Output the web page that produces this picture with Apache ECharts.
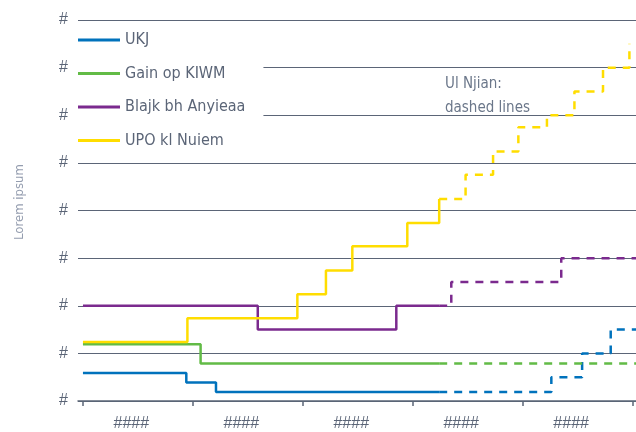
<!DOCTYPE html>
<html>
<head>
<meta charset="utf-8">
<script src="https://cdn.jsdelivr.net/npm/echarts@6/dist/echarts.min.js"></script>
<style>
  html, body { margin: 0; padding: 0; background: #fff; }
  #chart { width: 636px; height: 432px; }
</style>
</head>
<body>
<div id="chart"></div>
<script>
// step points: [x, new value from x on]
const names = ['UKJ', 'Gain op KIWM', 'Blajk bh Anyieaa', 'UPO kl Nuiem'];
const colors = ['#0072bc', '#62bb46', '#7b2a8e', '#ffdd00'];

const ukjSolid = [[0, 0.59], [0.94, 0.39], [1.21, 0.19], [3.24, 0.19]];
const ukjDash = [[3.24, 0.19], [4.26, 0.5], [4.54, 1.0], [4.80, 1.5], [5.03, 1.5]];

const gainSolid = [[0, 1.19], [1.07, 0.79], [3.24, 0.79]];
const gainDash = [[3.24, 0.79], [5.03, 0.79]];

const blajkSolid = [[0, 2.0], [1.59, 1.5], [2.85, 2.0], [3.24, 2.0]];
const blajkDash = [[3.24, 2.0], [3.35, 2.5], [4.35, 3.0], [5.03, 3.0]];

const upoSolid = [[0, 1.24], [0.95, 1.74], [1.95, 2.24], [2.21, 2.74], [2.45, 3.25],
  [2.95, 3.74], [3.24, 4.24]];
const upoDash = [[3.24, 4.24], [3.48, 4.75], [3.73, 5.24], [3.96, 5.75], [4.22, 6.0],
  [4.47, 6.5], [4.73, 7.0], [4.97, 7.5]];

const xTicks = [0, 1, 2, 3, 4, 5];
const xLabelPos = [0.44, 1.44, 2.44, 3.44, 4.44];
const xLabel = '####';
const yLabel = '#';

const font = "'Liberation Sans Narrow', 'DejaVu Sans Condensed', sans-serif";
const tickFont = "'Liberation Sans', Arial, sans-serif";
const axisCol = '#5b6577';

const solids = [ukjSolid, gainSolid, blajkSolid, upoSolid];
const dashes = [ukjDash, gainDash, blajkDash, upoDash];

const series = [];
names.forEach(function (n, i) {
  series.push({
    name: n, type: 'line', step: 'end', data: solids[i], symbol: 'none',
    lineStyle: { color: colors[i], width: 2.5 }, itemStyle: { color: colors[i] }, z: 3
  });
  series.push({
    name: n, type: 'line', step: 'end', data: dashes[i], symbol: 'none',
    lineStyle: { color: colors[i], width: 2.5, type: [8, 7] }, itemStyle: { color: colors[i] }, z: 3
  });
});

const chart = echarts.init(document.getElementById('chart'));
chart.setOption({
  animation: false,
  textStyle: { fontFamily: font },
  grid: { left: 78, right: 0, top: 20, bottom: 30 },
  legend: {
    orient: 'vertical', left: 78, top: 28,
    data: names.map(function (n, i) { return { name: n, itemStyle: { color: colors[i] } }; }),
    icon: 'rect', itemWidth: 42, itemHeight: 3, itemGap: 13.5,
    backgroundColor: '#fff', padding: [2, 18, 4, 0],
    selectedMode: false,
    textStyle: { fontFamily: font, fontSize: 16, color: '#5b6577', lineHeight: 20 }
  },
  xAxis: {
    type: 'value', min: -0.045, max: 5.03,
    axisLine: { show: true, lineStyle: { color: axisCol, width: 1.5 } },
    axisTick: { show: true, customValues: xTicks, length: 5, lineStyle: { color: axisCol, width: 1.5 } },
    axisLabel: { customValues: xLabelPos, formatter: function () { return xLabel; },
      color: axisCol, fontSize: 16, margin: 15, fontFamily: tickFont },
    splitLine: { show: false }
  },
  yAxis: {
    type: 'value', min: 0, max: 8, interval: 1,
    axisLine: { show: false }, axisTick: { show: false },
    axisLabel: { formatter: function () { return yLabel; }, color: axisCol, fontSize: 16, margin: 10, fontFamily: tickFont },
    splitLine: { lineStyle: { color: axisCol, width: 1.2 } }
  },
  graphic: [{
    type: 'text', x: 20, y: 202, rotation: Math.PI / 2, z: 10,
    style: { text: 'Lorem ipsum', fill: '#949daf', font: '13px ' + font, textAlign: 'center', textVerticalAlign: 'middle' }
  }, {
    type: 'text', left: 445, top: 72, z: 10,
    style: { text: 'Ul Njian:\ndashed lines', fill: '#6b778a', font: '15px ' + font, lineHeight: 24 }
  }],
  series: series
});
</script>
</body>
</html>
